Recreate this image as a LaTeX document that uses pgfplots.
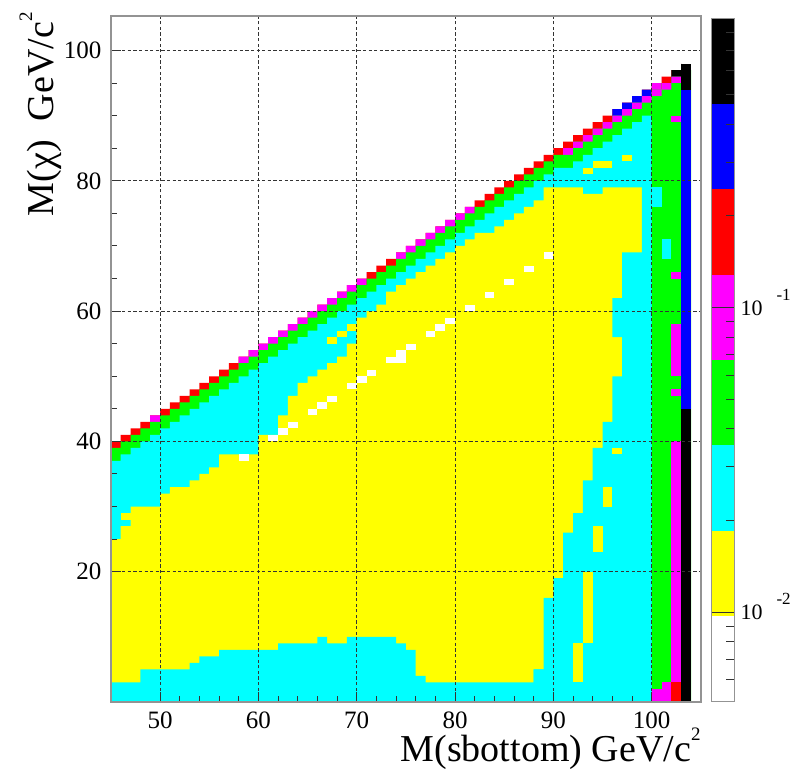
\documentclass[border=0pt]{standalone}
\usepackage{fontspec}
\setmainfont{Liberation Serif}
\usepackage{pgfplots}
\usepackage{pgfplotstable}
\pgfplotsset{compat=1.18}

% palette of the contour levels
\definecolor{cY}{RGB}{255,255,0}
\definecolor{cC}{RGB}{0,255,255}
\definecolor{cG}{RGB}{0,255,0}
\definecolor{cM}{RGB}{255,0,255}
\definecolor{cR}{RGB}{255,0,0}
\definecolor{cB}{RGB}{0,0,255}
\definecolor{cK}{RGB}{0,0,0}

% Column-wise contour boundaries (1 GeV bins, x = left edge of the bin)
% T: top of the diagonal band, T1/T2: next rows, C: top of cyan,
% Y: top of yellow, B: top of the cyan strip along the bottom
\pgfplotstableread{
x T T1 T2 C Y B
45 40 39 38 37 25 3
46 41 40 39 38 27 3
47 42 41 40 39 30 3
48 43 42 41 40 30 5
49 44 43 42 41 30 5
50 45 44 43 42 32 5
51 46 45 44 43 33 5
52 47 46 45 44 33 5
53 48 47 46 45 34 6
54 49 48 47 46 35 7
55 50 49 48 47 36 7
56 51 50 49 48 38 8
57 52 51 50 49 38 8
58 53 52 51 50 38 8
59 54 53 52 51 38 8
60 55 54 53 52 41 8
61 56 55 54 53 41 8
62 57 56 55 54 44 9
63 58 57 56 55 47 9
64 59 58 57 56 49 9
65 60 59 58 57 50 9
66 61 60 59 58 51 10
67 62 61 60 59 52 9
68 63 62 61 60 53 9
69 64 63 62 61 55 10
70 65 64 63 62 59 10
71 66 65 64 63 60 10
72 67 66 65 64 61 10
73 68 67 66 65 63 10
74 69 68 67 66 64 9
75 70 69 68 67 65 8
76 71 70 69 68 66 4
77 72 71 70 69 67 3
78 73 72 71 70 68 3
79 74 73 72 71 69 3
80 75 74 73 72 70 3
81 76 75 74 73 71 3
82 77 76 75 74 72 3
83 78 77 76 75 72 3
84 79 78 77 76 73 3
85 80 79 78 77 74 3
86 81 80 79 78 75 3
87 82 81 80 79 76 3
88 83 82 81 80 77 5
89 84 83 82 81 79 5
90 85 84 83 82 79 0
91 86 85 84 82 79 0
92 87 86 85 83 79 0
93 88 87 86 84 78 0
94 89 88 87 85 78 0
95 90 89 88 86 79 0
96 91 90 89 87 79 0
97 92 91 90 88 79 0
98 93 92 91 89 79 0
99 94 93 92 90 79 0
100 95 94 93 90 0 0
101 96 95 94 0 0 0
102 97 96 95 0 0 0
103 98 97 96 0 0 0
104 98 97 96 0 0 0
}\hist

% single rectangular bin region: colour, x0, x1, y0, y1
\newcommand{\cell}[5]{\addplot[draw=none, fill=#1, forget plot] coordinates {(#2,#4) (#3,#4) (#3,#5) (#2,#5)} -- cycle;}

\begin{document}
\begin{tikzpicture}
\useasboundingbox (-55.45pt,-36.5pt) rectangle (342.05pt,351pt);

\begin{axis}[
  at={(0pt,0pt)}, anchor=south west,
  scale only axis, width=295pt, height=343pt,
  xmin=45, xmax=105, ymin=0, ymax=105.3,
  axis on top,
  xtick={50,60,...,100}, minor x tick num=4,
  ytick={20,40,...,100}, minor y tick num=3,
  xtick pos=left, ytick pos=left,
  tick align=inside,
  major tick length=5pt, minor tick length=3pt,
  grid=major,
  major grid style={black!80, line width=0.5pt, dash pattern=on 1.6pt off 1.2pt},
  axis line style={gray!85, line width=0.7pt},
  tick style={black!80, line width=0.5pt},
  /pgf/number format/assume math mode=true,
  tick label style={font=\rmfamily\fontsize{12.5}{13}\selectfont},
  xticklabel style={yshift=-1.5pt},
  yticklabel style={xshift=-1.2pt},
  band/.style={const plot, draw=none, forget plot},
]
% top row of the diagonal band
\addplot[band, fill=cR, restrict x to domain=45:103] table[x=x, y=T] {\hist} \closedcycle;
\addplot[band, fill=cM, restrict x to domain=49:50] table[x=x, y=T] {\hist} \closedcycle;
\addplot[band, fill=cM, restrict x to domain=58:71] table[x=x, y=T] {\hist} \closedcycle;
\addplot[band, fill=cM, restrict x to domain=74:82] table[x=x, y=T] {\hist} \closedcycle;
\addplot[band, fill=cM, restrict x to domain=100:101] table[x=x, y=T] {\hist} \closedcycle;
\addplot[band, fill=cB, restrict x to domain=96:100] table[x=x, y=T] {\hist} \closedcycle;
\addplot[band, fill=cK, restrict x to domain=102:103] table[x=x, y=T] {\hist} \closedcycle;
% second and third rows
\addplot[band, fill=cG, restrict x to domain=45:104] table[x=x, y=T1] {\hist} \closedcycle;
\addplot[band, fill=cM, restrict x to domain=91:103] table[x=x, y=T1] {\hist} \closedcycle;
\addplot[band, fill=cG, restrict x to domain=91:103] table[x=x, y=T2] {\hist} \closedcycle;
% cyan and yellow regions
\addplot[band, fill=cC, restrict x to domain=45:100] table[x=x, y=C] {\hist} \closedcycle;
\addplot[band, fill=cY, restrict x to domain=45:99] table[x=x, y=Y] {\hist} \closedcycle;
% cyan region on the high-mass side
\addplot[draw=none, fill=cC, forget plot] coordinates {
  (88,0) (88,5) (89,5) (89,16) (90,16) (90,19) (91,19) (91,26) (92,26) (92,29)
  (93,29) (93,34) (94,34) (94,39) (95,39) (95,43) (96,43) (96,50) (97,50) (97,56)
  (96,56) (96,62) (97,62) (97,69) (99,69) (99,80) (100,80) (100,0)} -- cycle;
% cyan strip at small M(chi)
\addplot[band, fill=cC, restrict x to domain=45:89] table[x=x, y=B] {\hist} \closedcycle;
% isolated yellow bins
\cell{cY}{92}{93}{3}{9}
\cell{cY}{93}{94}{9}{20}
\cell{cY}{94}{95}{23}{27}
\cell{cY}{95}{96}{30}{33}
\cell{cY}{96}{97}{38}{39}
\cell{cY}{93}{94}{81}{82}
\cell{cY}{94}{96}{82}{83}
\cell{cY}{97}{98}{83}{84}
\cell{cY}{46}{47}{28}{29}
\cell{cY}{67}{68}{55}{56}
\cell{cY}{68}{69}{56}{57}
\cell{cY}{69}{70}{57}{58}
% empty bins inside the yellow region
\cell{white}{58}{59}{37}{38}
\cell{white}{61}{62}{40}{41}
\cell{white}{62}{63}{41}{42}
\cell{white}{63}{64}{42}{43}
\cell{white}{65}{66}{44}{45}
\cell{white}{66}{67}{45}{46}
\cell{white}{67}{68}{46}{47}
\cell{white}{69}{70}{48}{49}
\cell{white}{70}{71}{49}{50}
\cell{white}{71}{72}{50}{51}
\cell{white}{73}{74}{52}{53}
\cell{white}{74}{75}{52}{54}
\cell{white}{75}{76}{54}{55}
\cell{white}{77}{78}{56}{57}
\cell{white}{78}{79}{57}{58}
\cell{white}{79}{80}{58}{59}
\cell{white}{81}{82}{60}{61}
\cell{white}{83}{84}{62}{63}
\cell{white}{85}{86}{64}{65}
\cell{white}{87}{88}{66}{67}
\cell{white}{89}{90}{68}{69}
% high-mass columns
\cell{cC}{100}{101}{76}{79}
\cell{cC}{101}{102}{68}{71}
\cell{cM}{100}{101}{0}{2}
\cell{cM}{101}{102}{0}{3}
\cell{cR}{102}{103}{0}{3}
\cell{cM}{102}{103}{3}{40}
\cell{cM}{102}{103}{47}{48}
\cell{cM}{102}{103}{50}{58}
\cell{cM}{102}{103}{65}{66}
\cell{cM}{102}{103}{89}{90}
\cell{cK}{103}{104}{0}{98}
\cell{cB}{103}{104}{45}{94}
\end{axis}

% colour scale
\begin{axis}[
  at={(300.3pt,0.2pt)}, anchor=south west,
  scale only axis, width=11.5pt, height=341.6pt,
  xmin=0, xmax=1, ymode=log, ymin=0.005082, ymax=0.8913,
  axis on top,
  xtick=\empty,
  ytick={0.01,0.1},
  minor ytick={0.006,0.007,0.008,0.009,0.02,0.03,0.04,0.05,0.06,0.07,0.08,0.09,0.2,0.3,0.4,0.5,0.6,0.7,0.8},
  yticklabels={
    {10\hspace{7pt}\raisebox{7.5pt}{\fontsize{8.5}{9}\selectfont -2}},
    {10\hspace{7pt}\raisebox{7.5pt}{\fontsize{8.5}{9}\selectfont -1}}},
  ytick pos=right, tick align=inside,
  major tick length=11.5pt, minor tick length=4.5pt,
  tick style={black!80, line width=0.5pt},
  axis line style={gray!85, line width=0.7pt},
  yticklabel style={anchor=base west, yshift=-3.7pt, xshift=-0.5pt, font=\rmfamily\fontsize{11}{12}\selectfont},
]
\cell{white}{0}{1}{0.005082}{0.009694}
\cell{cY}{0}{1}{0.009694}{0.01849}
\cell{cC}{0}{1}{0.01849}{0.03527}
\cell{cG}{0}{1}{0.03527}{0.06730}
\cell{cM}{0}{1}{0.06730}{0.1284}
\cell{cR}{0}{1}{0.1284}{0.2449}
\cell{cB}{0}{1}{0.2449}{0.4672}
\cell{cK}{0}{1}{0.4672}{0.8913}
\end{axis}

% axis titles
\node[anchor=base east, inner sep=0pt, font=\fontsize{19}{20}\selectfont]
  at (295pt,-29.5pt) {M(sbottom) GeV/c\raisebox{0.55em}{\fontsize{9.5}{10}\selectfont 2}};
\node[rotate=90, anchor=base east, inner sep=0pt, font=\fontsize{19}{20}\selectfont]
  at (-28.95pt,345pt) {M(χ)\ \ GeV/c\raisebox{0.55em}{\fontsize{9.5}{10}\selectfont 2}};
\end{tikzpicture}
\end{document}
